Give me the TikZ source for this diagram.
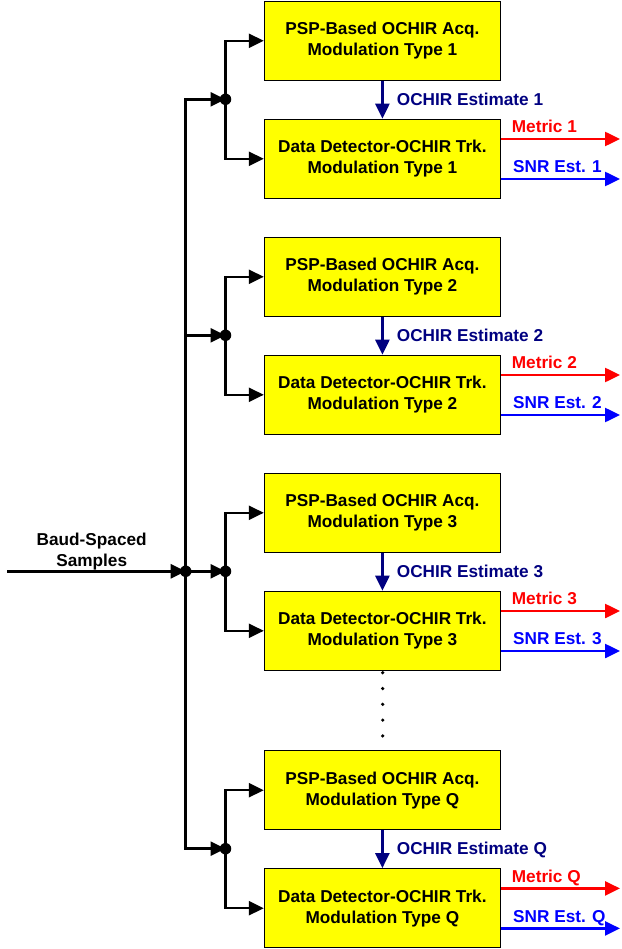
\documentclass[tikz,border=0pt]{standalone}
\usepackage{fontspec}
\setmainfont{Liberation Sans}
\usetikzlibrary{arrows.meta}
\definecolor{navyb}{RGB}{0,0,128}
\definecolor{ylw}{RGB}{255,255,0}
\begin{document}
\begin{tikzpicture}[x=1pt,y=-1pt,
  font=\fontsize{17.2}{21}\selectfont\bfseries,
  blk/.style={draw=black, line width=1.2pt, fill=ylw, minimum width=236pt, minimum height=79pt, align=center, inner sep=0pt},
  jdot/.style={circle, fill=black, inner sep=0pt, minimum size=11.5pt},
  tip/.style={-{Triangle[length=15pt,width=14pt]}},
  wire/.style={line width=2.5pt, tip},
  est/.style={line width=2.5pt, draw=navyb, tip},
  redw/.style={line width=2.5pt, draw=red, tip},
  bluew/.style={line width=2.5pt, draw=blue, tip},
  lbl/.style={anchor=west, inner sep=0pt, text height=12.4pt, text depth=0pt}]
\useasboundingbox (0,0) rectangle (621,949);
\foreach \T/\n/\i in {1.3/1/a, 237.3/2/b, 473.3/3/c, 750.7/Q/d} {
  \node[blk] (acq\i) at (382.4,\T+39.5) {PSP-Based OCHIR Acq.\\Modulation Type \n};
  \node[blk] (trk\i) at (382.4,\T+157.5) {Data Detector-OCHIR Trk.\\Modulation Type \n};
  \node[jdot] (j\i) at (225.5,\T+98) {};
  \coordinate (t\i) at (185.7,\T+98);
  \draw[wire] (j\i.center) |- (acq\i.west);
  \draw[wire] (j\i.center) |- (trk\i.west);
  \draw[wire] (t\i) -- (j\i.center);
  \draw[est] (acq\i.south) -- (trk\i.north);
  \node[lbl, text=navyb] (el\i) at (396.7,\T+98) {OCHIR Estimate \n};
  \coordinate (mo\i) at (620,\T+137.7);
  \coordinate (so\i) at (620,\T+177.7);
  \draw[redw] (trk\i.east |- mo\i) -- (mo\i);
  \draw[bluew] (trk\i.east |- so\i) -- (so\i);
  \node[lbl, text=red] (ml\i) at (511.7,\T+125.4) {Metric \n};
  \node[lbl, text=blue] (sl\i) at (513,\T+165.4) {SNR Est. \n};
}
\draw[line width=2.5pt, line cap=rect] (ta) -- (td);
\node[jdot] (inj) at (tc) {};
\coordinate (in) at (7.3,571.3);
\draw[wire] (in) -- (inj.center);
\node[align=center, inner sep=0pt] (inlbl) at (91.7,551.2) {Baud-Spaced\\Samples};
\foreach \k in {0,...,4} \fill (382.7,672.7+15.8*\k) circle (1.8pt);
\end{tikzpicture}
\end{document}
